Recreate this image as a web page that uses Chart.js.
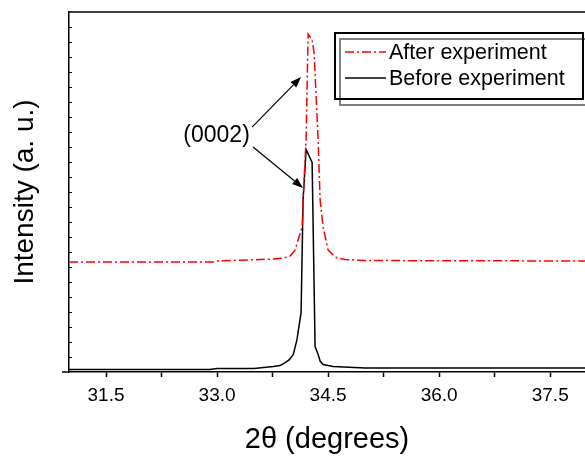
<!DOCTYPE html>
<html><head><meta charset="utf-8">
<script src="https://cdn.jsdelivr.net/npm/chart.js@4.4.1/dist/chart.umd.min.js"></script>
<style>html,body{margin:0;padding:0;background:#fff}</style>
</head><body>
<canvas id="c" width="585" height="461"></canvas>
<script>
// ---- data ----
const afterTheta  = [31.0, 32.95, 33.0, 33.76, 33.9, 33.986, 34.054, 34.095, 34.149, 34.162, 34.203, 34.23, 34.284, 34.311, 34.365, 34.392, 34.432, 34.5, 34.568, 34.62, 34.73, 35.0, 37.97];
const afterInt    = [7.33, 7.33, 7.4, 7.53, 7.6, 7.73, 8.13, 8.8, 9.67, 11.47, 15.6, 22.53, 22.13, 21.27, 15.47, 11.47, 9.67, 8.13, 7.8, 7.6, 7.5, 7.43, 7.4];
const beforeTheta = [31.0, 32.9, 33.0, 33.5, 33.76, 33.85, 33.92, 33.973, 34.03, 34.08, 34.135, 34.15, 34.162, 34.203, 34.284, 34.324, 34.365, 34.392, 34.432, 34.568, 35.0, 37.97];
const beforeInt   = [0.17, 0.17, 0.23, 0.23, 0.37, 0.43, 0.63, 0.8, 1.17, 2.17, 3.97, 8.17, 11.5, 14.83, 13.97, 1.7, 1.17, 0.73, 0.5, 0.37, 0.27, 0.27];
const seriesLabels = ['After experiment', 'Before experiment'];
const xMajorTicks = [31.5, 33.0, 34.5, 36.0, 37.5];
const xMinorTicks = [32.25, 33.75, 35.25, 36.75];
const yTickValues = [1,2,3,4,5,6,7,8,9,10,11,12,13,14,15,16,17,18,19,20,21,22,23];
const peakLabel = '(0002)';
const labelPos = [32.993, 15.73];
const arrowFrom = [[33.473, 16.33], [33.486, 15.0]];
const arrowTo   = [[34.135, 19.67], [34.162, 12.27]];

const F = '"Liberation Sans", Arial, sans-serif';
const RED_DASH = [9, 3, 2, 3];

const toXY = (xs, ys) => xs.map((x, i) => ({x: x, y: ys[i]}));

const decor = {
  id: 'decor',
  afterDraw(chart) {
    const ctx = chart.ctx, ca = chart.chartArea;
    const xs = chart.scales.x, ys = chart.scales.y;
    ctx.save();
    // top frame line
    ctx.strokeStyle = '#000'; ctx.lineWidth = 1.5;
    ctx.beginPath(); ctx.moveTo(ca.left, ca.top); ctx.lineTo(ca.right, ca.top); ctx.stroke();
    // inside y ticks
    ctx.lineWidth = 1;
    yTickValues.forEach(v => {
      const y = Math.round(ys.getPixelForValue(v)) + 0.5;
      ctx.beginPath(); ctx.moveTo(ca.left, y); ctx.lineTo(ca.left + 3, y); ctx.stroke();
    });
    // small outward tick at 0
    ctx.lineWidth = 1.5;
    const y0 = ys.getPixelForValue(0);
    ctx.beginPath(); ctx.moveTo(ca.left - 7, y0); ctx.lineTo(ca.left, y0); ctx.stroke();

    // annotation text
    ctx.fillStyle = '#000';
    ctx.font = '23px ' + F;
    ctx.textAlign = 'center'; ctx.textBaseline = 'middle';
    ctx.fillText(peakLabel, xs.getPixelForValue(labelPos[0]), ys.getPixelForValue(labelPos[1]));
    // arrows
    ctx.lineWidth = 1.2;
    arrowFrom.forEach((f, i) => {
      const x1 = xs.getPixelForValue(f[0]), y1 = ys.getPixelForValue(f[1]);
      const x2 = xs.getPixelForValue(arrowTo[i][0]), y2 = ys.getPixelForValue(arrowTo[i][1]);
      const a = Math.atan2(y2 - y1, x2 - x1), L = 11, W = 4;
      ctx.beginPath(); ctx.moveTo(x1, y1); ctx.lineTo(x2 - L * Math.cos(a), y2 - L * Math.sin(a)); ctx.stroke();
      ctx.beginPath();
      ctx.moveTo(x2, y2);
      ctx.lineTo(x2 - L * Math.cos(a) + W * Math.sin(a), y2 - L * Math.sin(a) - W * Math.cos(a));
      ctx.lineTo(x2 - L * Math.cos(a) - W * Math.sin(a), y2 - L * Math.sin(a) + W * Math.cos(a));
      ctx.closePath(); ctx.fill();
    });

    // legend box with offset shadow frame
    ctx.lineWidth = 2;
    ctx.strokeStyle = '#808080';
    ctx.strokeRect(340, 39, 248, 66);
    ctx.strokeStyle = '#000';
    ctx.strokeRect(335, 33, 248, 66);
    const rows = [52, 78];
    chart.data.datasets.forEach((ds, i) => {
      ctx.strokeStyle = ds.borderColor; ctx.lineWidth = 1.5;
      ctx.setLineDash(ds.borderDash || []);
      ctx.beginPath(); ctx.moveTo(345, rows[i]); ctx.lineTo(386, rows[i]); ctx.stroke();
      ctx.setLineDash([]);
      ctx.fillStyle = '#000'; ctx.font = '21.5px ' + F;
      ctx.textAlign = 'left'; ctx.textBaseline = 'middle';
      ctx.fillText(ds.label, 389, rows[i] + 1);
    });
    ctx.restore();
  }
};

new Chart(document.getElementById('c'), {
  type: 'line',
  data: {
    datasets: [
      {label: seriesLabels[0], data: toXY(afterTheta, afterInt), borderColor: '#ff0000', borderWidth: 1.5, borderDash: RED_DASH, pointRadius: 0, tension: 0, fill: false},
      {label: seriesLabels[1], data: toXY(beforeTheta, beforeInt), borderColor: '#000000', borderWidth: 1.5, pointRadius: 0, tension: 0, fill: false}
    ]
  },
  options: {
    responsive: false, animation: false, devicePixelRatio: 1,
    layout: {padding: {top: 12, right: 0, left: 0, bottom: 0}},
    plugins: {legend: {display: false}, tooltip: {enabled: false}},
    scales: {
      x: {
        type: 'linear', min: 31, max: 37.97, position: 'bottom',
        afterBuildTicks: s => { s.ticks = xMajorTicks.concat(xMinorTicks).sort((a, b) => a - b).map(v => ({value: v})); },
        afterFit: s => { s.height = 89; },
        ticks: {autoSkip: false, maxRotation: 0, padding: 7, color: '#000', font: {size: 19, family: F},
          callback: v => xMajorTicks.indexOf(v) >= 0 ? v.toFixed(1) : ''},
        grid: {drawOnChartArea: false, drawTicks: true, tickLength: 5, tickWidth: 1.5, tickColor: '#000'},
        border: {display: true, color: '#000', width: 1.5},
        title: {display: true, text: '2θ (degrees)', color: '#000', font: {size: 29, family: F}, padding: {top: 0, bottom: 4}}
      },
      y: {
        type: 'linear', min: 0, max: 24,
        afterFit: s => { s.width = 69; },
        ticks: {display: false},
        grid: {drawOnChartArea: false, drawTicks: false},
        border: {display: true, color: '#000', width: 1.5},
        title: {display: true, text: 'Intensity (a. u.)', color: '#000', font: {size: 28, family: F}, padding: {top: 8, bottom: 0}}
      }
    }
  },
  plugins: [decor]
});
</script>
</body></html>
